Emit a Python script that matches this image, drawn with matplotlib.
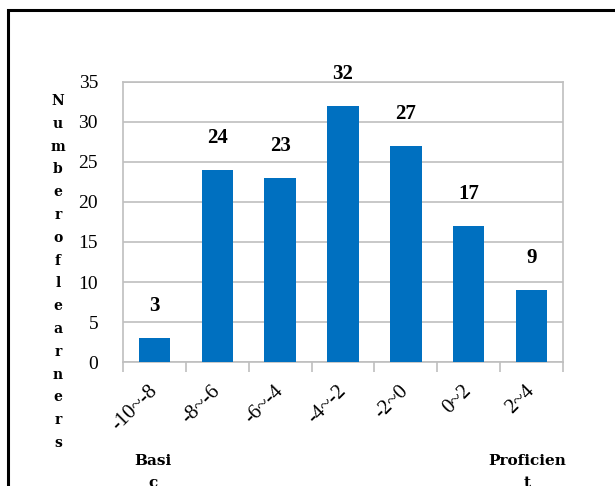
import matplotlib
matplotlib.use('Agg')
import matplotlib.pyplot as plt
from matplotlib.patches import Rectangle
from matplotlib.ticker import MultipleLocator, FixedLocator

# ── Data ──────────────────────────────────────────────────────────────────────
CATEGORIES = ['-10~-8', '-8~-6', '-6~-4', '-4~-2', '-2~0', '0~2', '2~4']
COUNTS     = [3, 24, 23, 32, 27, 17, 9]
Y_LABEL    = 'Numberoflearners'
LEFT_NOTE  = 'Basi\nc'
RIGHT_NOTE = 'Proficien\nt'

BLUE  = '#0070C0'
GRID  = '#BFBFBF'
SERIF = ['Liberation Serif', 'DejaVu Serif']
WIDE  = ['DejaVu Serif']

plt.rcParams['font.family'] = SERIF

fig = plt.figure(figsize=(6.15, 4.86), dpi=100)
# black frame around the figure, clipped on right/bottom like the source
fig.patches.append(Rectangle((8 / 615, -0.1), 1.2, 1 - 10 / 486 + 0.1,
                             transform=fig.transFigure, fill=False,
                             edgecolor='black', linewidth=2.2))

ax = fig.add_axes([0.2, 0.255, 0.7155, 0.5765])
x = range(len(CATEGORIES))
ax.bar(x, COUNTS, width=0.5, color=BLUE, zorder=3)

for xi, v in zip(x, COUNTS):
    ax.text(xi, v + 4, str(v), ha='center', va='center',
            fontsize=15, fontweight='bold', family=SERIF)

ax.set_xlim(-0.5, len(CATEGORIES) - 0.5)
ax.set_ylim(0, 35)
ax.yaxis.set_major_locator(MultipleLocator(5))
ax.grid(axis='y', color=GRID, linewidth=1.2, zorder=0)

ax.set_xticks(list(x))
ax.set_xticklabels(CATEGORIES, rotation=45, ha='right', va='center',
                   rotation_mode='anchor', fontsize=15)
ax.xaxis.set_minor_locator(FixedLocator([i - 0.5 for i in range(len(CATEGORIES) + 1)]))
ax.tick_params(axis='x', which='major', length=0, pad=19)
ax.tick_params(axis='x', which='minor', length=7, width=1.2, color=GRID)
ax.tick_params(axis='y', length=0, pad=18, labelsize=14)

for s in ax.spines.values():
    s.set_color(GRID)
    s.set_linewidth(1.2)

fig.text(58 / 615, 1 - 272 / 486, '\n'.join(Y_LABEL), ha='center', va='center',
         fontsize=10, fontweight='bold', linespacing=1.8, family=WIDE)

fig.text(153 / 615, 1 - 472 / 486, LEFT_NOTE, ha='center', va='center',
         fontsize=11, fontweight='bold', linespacing=1.7, family=WIDE)
fig.text(527 / 615, 1 - 472 / 486, RIGHT_NOTE, ha='center', va='center',
         fontsize=11, fontweight='bold', linespacing=1.7, family=WIDE)

fig.savefig('out.png', dpi=100)
